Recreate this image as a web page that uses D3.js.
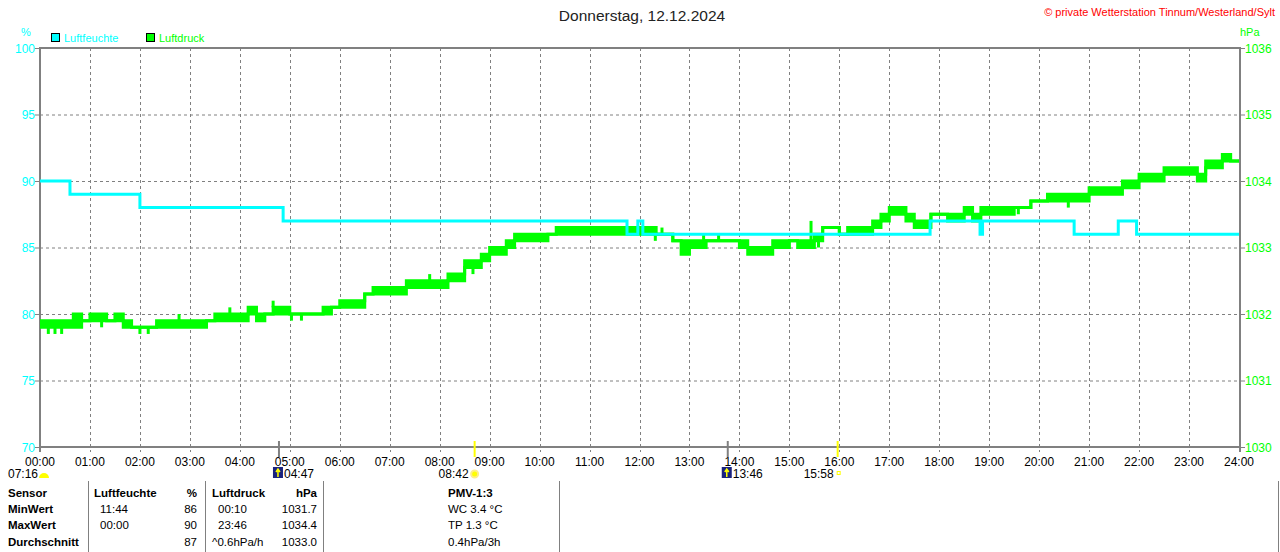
<!DOCTYPE html>
<html>
<head>
<meta charset="utf-8">
<script src="https://cdn.jsdelivr.net/npm/d3@7"></script>
<style>
  body { margin: 0; background: #fff; }
  text { font-family: 'Liberation Sans', Arial, sans-serif; }
</style>
</head>
<body>
<div id="chart"></div>
<script>
// humidity steps: [minute, %]
const humidity = [
  [0, 90], [36, 89], [120, 88], [292, 87], [705, 86], [718, 87], [724, 86],
  [1069, 87], [1129, 86], [1132, 87], [1242, 86], [1295, 87], [1317, 86], [1440, 86]
]

// pressure per 10 minutes (144 bins), lower / upper value of the flicker band
const pressureLo = [
  1031.8, 1031.8, 1031.8, 1031.8, 1031.8, 1031.9, 1031.9, 1031.9, 1031.9, 1031.9,
  1031.8, 1031.8, 1031.8, 1031.8, 1031.8, 1031.8, 1031.8, 1031.8, 1031.8, 1031.8,
  1031.9, 1031.9, 1031.9, 1031.9, 1031.9, 1032.0, 1031.9, 1032.0, 1032.0, 1032.0,
  1032.0, 1032.0, 1032.0, 1032.0, 1032.0, 1032.1, 1032.1, 1032.1, 1032.1, 1032.3,
  1032.3, 1032.3, 1032.3, 1032.3, 1032.4, 1032.4, 1032.4, 1032.4, 1032.4, 1032.5,
  1032.5, 1032.7, 1032.7, 1032.8, 1032.9, 1032.9, 1033.0, 1033.1, 1033.1, 1033.1,
  1033.1, 1033.2, 1033.2, 1033.2, 1033.2, 1033.2, 1033.2, 1033.2, 1033.2, 1033.2,
  1033.2, 1033.2, 1033.2, 1033.2, 1033.2, 1033.2, 1033.1, 1032.9, 1033.0, 1033.0,
  1033.1, 1033.1, 1033.1, 1033.1, 1033.0, 1032.9, 1032.9, 1032.9, 1033.0, 1033.0,
  1033.1, 1033.0, 1033.0, 1033.1, 1033.3, 1033.3, 1033.2, 1033.2, 1033.2, 1033.2,
  1033.3, 1033.4, 1033.5, 1033.5, 1033.4, 1033.3, 1033.3, 1033.5, 1033.5, 1033.4,
  1033.4, 1033.5, 1033.4, 1033.5, 1033.5, 1033.5, 1033.5, 1033.6, 1033.6, 1033.7,
  1033.7, 1033.7, 1033.7, 1033.7, 1033.7, 1033.7, 1033.8, 1033.8, 1033.8, 1033.8,
  1033.9, 1033.9, 1034.0, 1034.0, 1034.0, 1034.1, 1034.1, 1034.1, 1034.1, 1034.0,
  1034.2, 1034.2, 1034.3, 1034.3
]
const pressureHi = [
  1031.9, 1031.9, 1031.9, 1031.9, 1032.0, 1031.9, 1032.0, 1032.0, 1031.9, 1032.0,
  1031.9, 1031.8, 1031.8, 1031.8, 1031.9, 1031.9, 1031.9, 1031.9, 1031.9, 1031.9,
  1031.9, 1032.0, 1032.0, 1032.0, 1032.0, 1032.1, 1032.0, 1032.0, 1032.1, 1032.1,
  1032.0, 1032.0, 1032.0, 1032.0, 1032.1, 1032.1, 1032.2, 1032.2, 1032.2, 1032.3,
  1032.4, 1032.4, 1032.4, 1032.4, 1032.5, 1032.5, 1032.5, 1032.5, 1032.5, 1032.6,
  1032.6, 1032.8, 1032.8, 1032.9, 1033.0, 1033.0, 1033.1, 1033.2, 1033.2, 1033.2,
  1033.2, 1033.2, 1033.3, 1033.3, 1033.3, 1033.3, 1033.3, 1033.3, 1033.3, 1033.3,
  1033.3, 1033.3, 1033.3, 1033.3, 1033.2, 1033.2, 1033.1, 1033.1, 1033.1, 1033.1,
  1033.1, 1033.1, 1033.1, 1033.1, 1033.1, 1033.0, 1033.0, 1033.0, 1033.1, 1033.1,
  1033.1, 1033.1, 1033.1, 1033.2, 1033.3, 1033.3, 1033.2, 1033.3, 1033.3, 1033.3,
  1033.4, 1033.5, 1033.6, 1033.6, 1033.5, 1033.4, 1033.4, 1033.5, 1033.5, 1033.5,
  1033.5, 1033.6, 1033.5, 1033.6, 1033.6, 1033.6, 1033.6, 1033.6, 1033.6, 1033.7,
  1033.7, 1033.8, 1033.8, 1033.8, 1033.8, 1033.8, 1033.9, 1033.9, 1033.9, 1033.9,
  1034.0, 1034.0, 1034.1, 1034.1, 1034.1, 1034.2, 1034.2, 1034.2, 1034.2, 1034.1,
  1034.3, 1034.3, 1034.4, 1034.3
]
const pressureEnd = 1034.3

// single-minute outliers: [minute, hPa]
const pressureSpikes = [
  [10, 1031.7], [18, 1031.7], [26, 1031.7], [46, 1031.8], [74, 1031.8],
  [120, 1031.7], [130, 1031.7], [167, 1032.0], [228, 1032.1], [280, 1032.2],
  [302, 1031.9], [314, 1031.9], [468, 1032.6], [520, 1032.6], [739, 1033.1],
  [747, 1033.3], [797, 1033.2], [815, 1033.2], [926, 1033.4], [935, 1033.0],
  [1175, 1033.5], [1235, 1033.6], [1417, 1034.2]
]

const hourLabels = d3.range(0, 25).map(h => (h < 10 ? '0' : '') + h + ':00')
const humTicks = [70, 75, 80, 85, 90, 95, 100]
const presTicks = [1030, 1031, 1032, 1033, 1034, 1035, 1036]

// sun / moon events on the time axis: [minute, label, kind]
const events = [
  [287, '04:47', 'moon'], [522, '08:42', 'sun'], [826, '13:46', 'moon'], [958, '15:58', 'sunset']
]

const tableHeader = ['Sensor', 'Luftfeuchte', '%', 'Luftdruck', 'hPa', 'PMV-1:3']
const tableRows = [
  ['MinWert', '11:44', '86', '00:10', '1031.7', 'WC 3.4 °C'],
  ['MaxWert', '00:00', '90', '23:46', '1034.4', 'TP 1.3 °C'],
  ['Durchschnitt', '', '87', '^0.6hPa/h', '1033.0', '0.4hPa/3h']
]

const cyan = '#00ffff'
const green = '#00ff00'
const grey = '#808080'

const svg = d3.select('#chart')
  .append('svg')
  .attr('width', 1280)
  .attr('height', 552)

svg.append('rect').attr('width', 1280).attr('height', 552).attr('fill', '#fff')

const x = d3.scaleLinear().domain([0, 1440]).range([40, 1239])
const yHum = d3.scaleLinear().domain([70, 100]).range([447, 48])
const yPres = d3.scaleLinear().domain([1030, 1036]).range([447, 48])

// title and source
svg.append('text')
  .attr('x', 642).attr('y', 21)
  .attr('text-anchor', 'middle')
  .attr('font-size', 15.5)
  .attr('fill', '#222')
  .text('Donnerstag, 12.12.2024')

svg.append('text')
  .attr('x', 1275).attr('y', 16)
  .attr('text-anchor', 'end')
  .attr('font-size', 11)
  .attr('fill', '#ff0000')
  .text('© private Wetterstation Tinnum/Westerland/Sylt')

// units + legend
svg.append('text').attr('x', 26).attr('y', 36).attr('text-anchor', 'middle')
  .attr('font-size', 11).attr('fill', cyan).text('%')
svg.append('text').attr('x', 1240).attr('y', 36)
  .attr('font-size', 11).attr('fill', green).text('hPa')

const legend = [['Luftfeuchte', cyan, 51], ['Luftdruck', green, 146]]
legend.forEach(([name, color, lx]) => {
  svg.append('rect').attr('x', lx + 0.5).attr('y', 33.5).attr('width', 8).attr('height', 8)
    .attr('fill', color).attr('stroke', '#000')
  svg.append('text').attr('x', lx + 13).attr('y', 42)
    .attr('font-size', 11).attr('fill', color).text(name)
})

// grid
const grid = svg.append('g')
grid.selectAll('.hgrid')
  .data(humTicks.slice(1, -1))
  .enter().append('line')
  .attr('x1', 40).attr('x2', 1239)
  .attr('y1', d => yHum(d) + 0.5).attr('y2', d => yHum(d) + 0.5)
  .attr('stroke', grey).attr('stroke-dasharray', '3,3')
grid.selectAll('.vgrid')
  .data(d3.range(1, 24))
  .enter().append('line')
  .attr('x1', d => Math.round(x(d * 60)) + 0.5).attr('x2', d => Math.round(x(d * 60)) + 0.5)
  .attr('y1', 48).attr('y2', 452)
  .attr('stroke', grey).attr('stroke-dasharray', '3,3')

// frame
svg.append('path')
  .attr('d', 'M40,452 V48 H1240 V452')
  .attr('fill', 'none').attr('stroke', grey).attr('stroke-width', 2)
svg.append('line')
  .attr('x1', 39).attr('x2', 1241).attr('y1', 447).attr('y2', 447)
  .attr('stroke', grey).attr('stroke-width', 2)

// left axis
const leftAxis = svg.append('g')
humTicks.forEach(v => {
  leftAxis.append('line').attr('x1', 35).attr('x2', 39)
    .attr('y1', yHum(v) + 0.5).attr('y2', yHum(v) + 0.5).attr('stroke', grey)
  leftAxis.append('text').attr('x', 35).attr('y', yHum(v) + 4.5)
    .attr('text-anchor', 'end').attr('font-size', 12).attr('fill', cyan).text(v)
})

// right axis
const rightAxis = svg.append('g')
presTicks.forEach(v => {
  rightAxis.append('line').attr('x1', 1241).attr('x2', 1245)
    .attr('y1', yPres(v) + 0.5).attr('y2', yPres(v) + 0.5).attr('stroke', grey)
  rightAxis.append('text').attr('x', 1245).attr('y', yPres(v) + 4.5)
    .attr('font-size', 12).attr('fill', green).text(v)
})

// time axis labels
svg.append('g').selectAll('text')
  .data(hourLabels)
  .enter().append('text')
  .attr('x', (d, i) => x(i * 60))
  .attr('y', 466)
  .attr('text-anchor', 'middle')
  .attr('font-size', 12)
  .attr('fill', '#000')
  .text(d => d)

// pressure band
const bins = pressureLo.map((lo, i) => ({ t: i * 10, lo: lo, hi: pressureHi[i] }))
bins.push({ t: 1440, lo: pressureEnd, hi: pressureEnd })

svg.append('path')
  .datum(bins)
  .attr('d', d3.area()
    .x(d => x(d.t))
    .y0(d => yPres(d.lo))
    .y1(d => yPres(d.hi))
    .curve(d3.curveStepAfter))
  .attr('fill', green)

const loLine = d3.line().x(d => x(d.t)).y(d => yPres(d.lo)).curve(d3.curveStepAfter)
const hiLine = d3.line().x(d => x(d.t)).y(d => yPres(d.hi)).curve(d3.curveStepAfter)
svg.append('path').datum(bins).attr('d', loLine)
  .attr('fill', 'none').attr('stroke', green).attr('stroke-width', 3)
svg.append('path').datum(bins).attr('d', hiLine)
  .attr('fill', 'none').attr('stroke', green).attr('stroke-width', 3)

svg.append('g').selectAll('line')
  .data(pressureSpikes)
  .enter().append('line')
  .attr('x1', d => x(d[0])).attr('x2', d => x(d[0]))
  .attr('y1', d => {
    const b = bins[Math.floor(d[0] / 10)]
    return yPres(d[1] > b.hi ? b.hi : b.lo)
  })
  .attr('y2', d => yPres(d[1]))
  .attr('stroke', green).attr('stroke-width', 3)

// humidity line
svg.append('path')
  .datum(humidity)
  .attr('d', d3.line().x(d => x(d[0])).y(d => yHum(d[1])).curve(d3.curveStepAfter))
  .attr('fill', 'none').attr('stroke', cyan).attr('stroke-width', 3)

// sun / moon markers
svg.append('text').attr('x', 8).attr('y', 478).attr('font-size', 12).text('07:16')
svg.append('path')
  .attr('d', 'M39,478 A5,5 0 0 1 49,478 Z')
  .attr('fill', '#ffff00')

events.forEach(([m, label, kind]) => {
  const ex = x(m)
  const tickColor = kind === 'moon' ? grey : '#ffff00'
  svg.append('line').attr('x1', ex).attr('x2', ex).attr('y1', 441).attr('y2', 457)
    .attr('stroke', tickColor).attr('stroke-width', 2)
  if (kind === 'moon') {
    svg.append('rect').attr('x', ex - 6).attr('y', 467).attr('width', 10).attr('height', 11)
      .attr('fill', '#1a237e')
    svg.append('path')
      .attr('d', `M${ex - 1},469 V477 M${ex - 3},472 L${ex - 1},469 L${ex + 1},472`)
      .attr('stroke', '#ffff00').attr('stroke-width', 1.5).attr('fill', 'none')
    svg.append('text').attr('x', ex + 5).attr('y', 478).attr('font-size', 12).text(label)
  } else if (kind === 'sun') {
    svg.append('circle').attr('cx', ex).attr('cy', 474).attr('r', 3.5).attr('fill', '#ffff00')
      .attr('stroke', '#ffee88').attr('stroke-width', 2)
    svg.append('text').attr('x', ex - 6).attr('y', 478).attr('text-anchor', 'end')
      .attr('font-size', 12).text(label)
  } else {
    svg.append('rect').attr('x', ex - 0.5).attr('y', 471.5).attr('width', 3).attr('height', 3)
      .attr('fill', 'none').attr('stroke', '#ffff00')
    svg.append('text').attr('x', ex - 4).attr('y', 478).attr('text-anchor', 'end')
      .attr('font-size', 12).text(label)
  }
})

// table
const sep = [88, 205, 323, 559, 1278]
sep.forEach(sx => {
  svg.append('line').attr('x1', sx + 0.5).attr('x2', sx + 0.5).attr('y1', 481).attr('y2', 552)
    .attr('stroke', grey)
})

// column positions: [x, anchor]
const cols = [[8, 'start'], [100, 'start'], [197, 'end'], [218, 'start'], [317, 'end'], [448, 'start']]
const headCols = [[8, 'start'], [94, 'start'], [197, 'end'], [212, 'start'], [317, 'end'], [448, 'start']]
const rowY = [497, 513, 529, 546]

tableHeader.forEach((h, i) => {
  svg.append('text').attr('x', headCols[i][0]).attr('y', rowY[0])
    .attr('text-anchor', headCols[i][1]).attr('font-size', 11.5).attr('font-weight', 'bold')
    .text(h)
})
tableRows.forEach((row, r) => {
  row.forEach((cell, i) => {
    let cx = cols[i][0]
    if (i === 3 && cell.startsWith('^')) cx = 212
    svg.append('text').attr('x', cx).attr('y', rowY[r + 1])
      .attr('text-anchor', cols[i][1]).attr('font-size', 11.5)
      .attr('font-weight', i === 0 ? 'bold' : 'normal')
      .text(cell)
  })
})
</script>
</body>
</html>
